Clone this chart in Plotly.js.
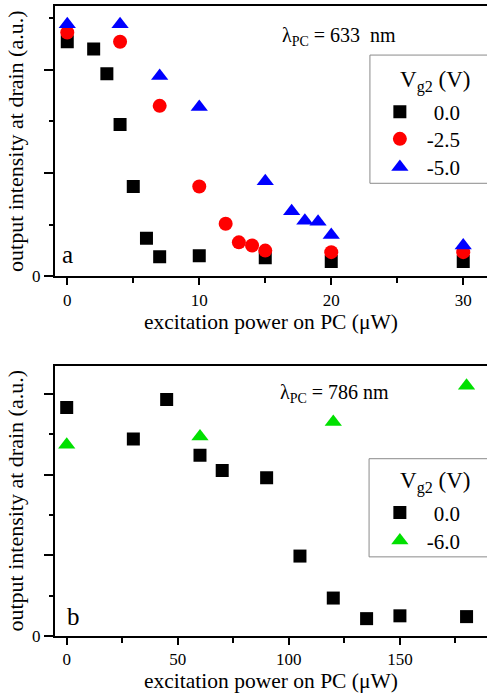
<!DOCTYPE html>
<html>
<head>
<meta charset="utf-8">
<script src="https://cdn.plot.ly/plotly-3.0.1.min.js"></script>
<style>html,body{margin:0;padding:0;background:#fff;}#chart{width:487px;height:698px;}</style>
</head>
<body>
<div id="chart"></div>
<script>
// Panel a: lambda_PC = 633 nm
var powerA_0 = [0, 2, 3, 4, 5, 6, 7, 10, 15, 20, 30];
var intensA_0 = [2.27, 2.20, 1.96, 1.47, 0.87, 0.37, 0.19, 0.20, 0.18, 0.145, 0.145];
var powerA_25 = [0, 4, 7, 10, 12, 13, 14, 15, 20, 30];
var intensA_25 = [2.36, 2.27, 1.65, 0.87, 0.51, 0.33, 0.30, 0.25, 0.235, 0.235];
var powerA_50 = [0, 4, 7, 10, 15, 17, 18, 19, 20, 30];
var intensA_50 = [2.44, 2.44, 1.94, 1.64, 0.92, 0.63, 0.54, 0.53, 0.40, 0.30];
// Panel b: lambda_PC = 786 nm
var powerB_0 = [0, 30, 45, 60, 70, 90, 105, 120, 135, 150, 180];
var intensB_0 = [2.83, 2.44, 2.93, 2.24, 2.05, 1.96, 0.99, 0.47, 0.215, 0.25, 0.24];
var powerB_60 = [0, 60, 120, 180];
var intensB_60 = [2.37, 2.47, 2.65, 3.10];

var namesA = ['0.0', '-2.5', '-5.0'];
var namesB = ['0.0', '-6.0'];
var xTicksA = [0, 10, 20, 30];
var xTicksB = [0, 50, 100, 150];

var FONT = 'Liberation Serif, Times New Roman, serif';
function lbl(s) {
  return (s.charAt(0) === '-' ? '\u2004' : '\u2004\u2004') + s;
}

var traces = [
  {x: powerA_0, y: intensA_0, name: lbl(namesA[0]), type: 'scatter', mode: 'markers',
   marker: {symbol: 'square', size: 13, color: '#000000'}, xaxis: 'x', yaxis: 'y', legend: 'legend'},
  {x: powerA_25, y: intensA_25, name: lbl(namesA[1]), type: 'scatter', mode: 'markers',
   marker: {symbol: 'circle', size: 14, color: '#ff0000'}, xaxis: 'x', yaxis: 'y', legend: 'legend3'},
  {x: powerA_50, y: intensA_50, name: lbl(namesA[2]), type: 'scatter', mode: 'markers',
   marker: {symbol: 'triangle-up', size: 15, color: '#0000ff'}, xaxis: 'x', yaxis: 'y', legend: 'legend4'},
  {x: powerB_0, y: intensB_0, name: lbl(namesB[0]), type: 'scatter', mode: 'markers',
   marker: {symbol: 'square', size: 13, color: '#000000'}, xaxis: 'x2', yaxis: 'y2', legend: 'legend2'},
  {x: powerB_60, y: intensB_60, name: lbl(namesB[1]), type: 'scatter', mode: 'markers',
   marker: {symbol: 'triangle-up', size: 15, color: '#00e000'}, xaxis: 'x2', yaxis: 'y2', legend: 'legend5'}
];

function xAxis(range, ticks, minorDtick, anchor) {
  return {
    domain: [0, 1], anchor: anchor, range: range, tickvals: ticks,
    ticks: 'outside', ticklen: 7, tickwidth: 2, tickcolor: '#000',
    minor: {ticks: 'outside', ticklen: 5, tickwidth: 2, tickcolor: '#000', dtick: minorDtick, tick0: 0},
    showline: true, linewidth: 2, linecolor: '#000', mirror: true,
    showgrid: false, zeroline: false,
    tickfont: {family: FONT, size: 17, color: '#000'},
    title: {text: 'excitation power on PC (\u03bcW)', font: {family: FONT, size: 21.5, color: '#000'}, standoff: 4}
  };
}
function yAxis(range, domain, anchor) {
  return {
    domain: domain, anchor: anchor, range: range,
    tickmode: 'linear', tick0: 0, dtick: 1, ticklabelstep: 10,
    ticks: 'outside', ticklen: 9, tickwidth: 2, tickcolor: '#000',
    minor: {ticks: 'outside', ticklen: 4, tickwidth: 2, tickcolor: '#000', dtick: 0.5, tick0: 0},
    showline: true, linewidth: 2, linecolor: '#000',
    showgrid: false, zeroline: false,
    tickfont: {family: FONT, size: 17, color: '#000'},
    title: {text: 'output intensity at drain (a.u.)\u00a0\u00a0\u00a0\u00a0\u00a0\u00a0', font: {family: FONT, size: 22, color: '#000'}, standoff: 2}
  };
}

function legendAt(y) {
  return {
    x: 0.752, xanchor: 'left', y: y, yanchor: 'middle',
    bgcolor: 'rgba(0,0,0,0)', borderwidth: 0,
    font: {family: FONT, size: 21, color: '#000'},
    itemsizing: 'trace', itemclick: false
  };
}

var boxLine = {color: '#8a8a8a', width: 1};
var layout = {
  width: 487, height: 698,
  margin: {l: 55, r: 0, t: 6, b: 62, autoexpand: false},
  paper_bgcolor: '#ffffff', plot_bgcolor: 'rgba(0,0,0,0)',
  showlegend: true,
  xaxis: xAxis([-0.93, 31.8], xTicksA, 5, 'y'),
  yaxis: yAxis([0, 2.616], [0.5707, 1], 'x'),
  xaxis2: xAxis([-5.27, 189.2], xTicksB, 25, 'y2'),
  yaxis2: yAxis([0, 3.35], [0, 0.4293], 'x2'),
  legend: legendAt(0.8315),
  legend3: legendAt(0.7886),
  legend4: legendAt(0.7440),
  legend2: legendAt(0.1955),
  legend5: legendAt(0.1510),
  shapes: [
    {type: 'rect', xref: 'paper', yref: 'paper', x0: 0.729, x1: 1.2, y0: 0.7186, y1: 0.9221,
     line: boxLine, fillcolor: 'rgba(0,0,0,0)', layer: 'above'},
    {type: 'rect', xref: 'paper', yref: 'paper', x0: 0.727, x1: 1.2, y0: 0.1256, y1: 0.2814,
     line: boxLine, fillcolor: 'rgba(0,0,0,0)', layer: 'above'}
  ],
  annotations: [
    {text: '\u03bb<sub>PC</sub> = 633\u00a0\u00a0nm', xref: 'paper', yref: 'paper', x: 0.521, y: 0.952,
     xanchor: 'left', yanchor: 'middle', showarrow: false, font: {family: FONT, size: 20, color: '#000'}},
    {text: '\u03bb<sub>PC</sub> = 786 nm', xref: 'paper', yref: 'paper', x: 0.516, y: 0.385,
     xanchor: 'left', yanchor: 'middle', showarrow: false, font: {family: FONT, size: 20, color: '#000'}},
    {text: 'V<sub>g2</sub> (V)', xref: 'paper', yref: 'paper', x: 0.794, y: 0.880,
     xanchor: 'left', yanchor: 'middle', showarrow: false, font: {family: FONT, size: 23, color: '#000'}},
    {text: 'V<sub>g2</sub> (V)', xref: 'paper', yref: 'paper', x: 0.794, y: 0.244,
     xanchor: 'left', yanchor: 'middle', showarrow: false, font: {family: FONT, size: 23, color: '#000'}},
    {text: 'a', xref: 'paper', yref: 'paper', x: 0.030, y: 0.605,
     xanchor: 'center', yanchor: 'middle', showarrow: false, font: {family: FONT, size: 25, color: '#000'}},
    {text: 'b', xref: 'paper', yref: 'paper', x: 0.0417, y: 0.031,
     xanchor: 'center', yanchor: 'middle', showarrow: false, font: {family: FONT, size: 25, color: '#000'}}
  ]
};

Plotly.newPlot('chart', traces, layout, {staticPlot: true, displayModeBar: false});
</script>
</body>
</html>
